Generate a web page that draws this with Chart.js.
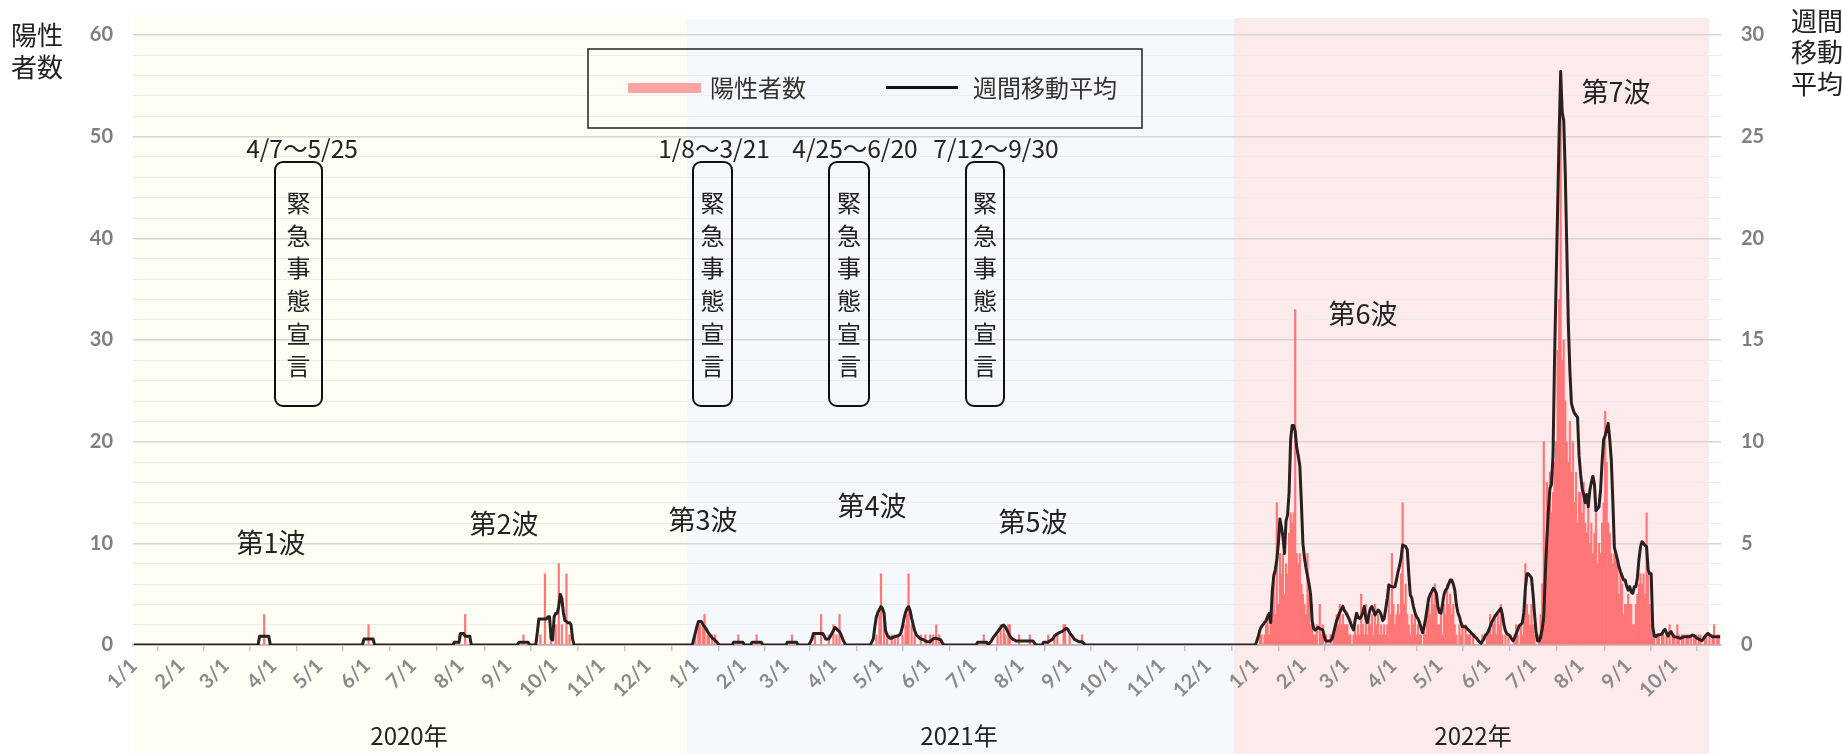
<!DOCTYPE html>
<html><head><meta charset="utf-8">
<script src="https://cdn.jsdelivr.net/npm/chart.js@4.4.1/dist/chart.umd.min.js"></script>
<style>html,body{margin:0;padding:0;background:#fff;}#wrap{width:1842px;height:754px;position:relative;overflow:hidden;}canvas{display:block;}</style>
</head><body><div id="wrap"><canvas id="c" width="1842" height="754"></canvas></div>
<script>
// ---- categories ----
const startDate = "2020-01-01";
const endDate = "2022-10-31";
const leftTicks = [0, 10, 20, 30, 40, 50, 60];
const rightTicks = [0, 5, 10, 15, 20, 25, 30];
const yearLabels = ["2020年", "2021年", "2022年"];

// ---- daily positive counts: [first date, consecutive daily values]; days not listed are 0 ----
const cases2020 = [
  ["2020-03-26", [3]],
  ["2020-06-02", [2]],
  ["2020-07-31", [1,0,0,0,3]],
  ["2020-09-11", [1]],
  ["2020-09-22", [1,0,0,7,0,0,0,1,0,0,2,0,8,0,2,0,0,7,0,1]]
];
const cases2021 = [
  ["2021-01-01", [1,0,2,2,0,2,3,0,1,1,0,1,0,1]],
  ["2021-01-29", [1]],
  ["2021-02-10", [1]],
  ["2021-03-05", [1]],
  ["2021-03-20", [1,0,0,0,3,0,0,0,0,1,0,0,2,0,1,0,3]],
  ["2021-04-29", [1,0,3,7,0,3,0,1,0,0,1,0,1,0,1,0,0,1,0,2,3,7,0,2,0,1,0,0,0,1,0,0,1,0,0,1,0,1,0,2,0,1]],
  ["2021-07-08", [1]],
  ["2021-07-17", [1,0,2,0,2,1,0,2,2,0,0,0,0,0,1]],
  ["2021-08-07", [1]],
  ["2021-08-19", [1,0,0,0,1,0,1,0,0,0,2,2,0,0,1]],
  ["2021-09-10", [1]]
];
const cases2022 = [
  ["2022-01-01", [0,0,0,1,1,0,1,2,3,1,2,4,7,3,14,4,9,7,9,5,8,7,11,13,12,13,33,9,8,9,6]],
  ["2022-02-01", [5,4,3,9,5,2,4,1,1,2,0,4,1,2,0,1,0,0,1,0,1,2,3,2,4,2,3,2]],
  ["2022-03-01", [2,2,1,1,0,1,2,1,2,1,5,2,1,4,1,3,2,3,1,4,2,3,1,2,1,2,1,2,6,3,9]],
  ["2022-04-01", [4,2,3,4,3,7,14,4,6,3,2,1,3,2,3,1,2,1,1,0,2,1,3,4,3,5,4,6,5,2]],
  ["2022-05-01", [2,3,1,4,3,6,4,5,3,4,2,1,0,2,1,2,0,2,1,1,1,0,1,0,0,0,0,0,1,0,0]],
  ["2022-06-01", [1,1,3,1,2,3,1,3,2,4,1,0,1,0,1,0,0,0,1,2,1,0,2,1,3,8,4,3,2,4]],
  ["2022-07-01", [2,1,0,0,1,3,6,20,9,16,12,17,13,15,18,20,29,34,52,28,30,24,20,18,22,17,20,14,17,12,15]],
  ["2022-08-01", [15,13,16,12,11,14,10,12,9,11,13,8,10,9,12,14,23,18,12,11,9,8,9,9,8,5,7,6,3,4,4]],
  ["2022-09-01", [5,4,4,2,2,4,5,6,7,6,7,5,13,7,4,2,1,1,0,1,1,0,1,1,0,1,0,2,0,1]],
  ["2022-10-01", [1,0,2,1,0,1,1,0,1,1,0,1,0,1,1,0,1,1,0,0,1,1,0,1,0,1,2,0,1,1,0]]
];

// ---- weekly moving average (right axis); days not listed are 0 ----
const avg2020 = [
  ["2020-03-23", [0.43,0.43,0.43,0.43,0.43,0.43,0.43]],
  ["2020-05-30", [0.29,0.29,0.29,0.29,0.29,0.29,0.29]],
  ["2020-07-28", [0.14,0.14,0.14,0.14,0.57,0.57,0.57,0.43,0.43,0.43,0.43]],
  ["2020-09-08", [0.14,0.14,0.14,0.14,0.14,0.14,0.14]],
  ["2020-09-20", [0.6,1.28,1.28,1.28,1.28,1.28,1.28,1.39,1.39,0.3,0.25,1.4,1.56,1.56,1.9,2.49,2.3,1.6,1.2,1.15,1.1,1.1,1.0,0.3]],
  ["2020-12-31", [0.3]]
];
const avg2021 = [
  ["2021-01-01", [0.6,0.9,1.15,1.15,1.15,1.0,0.9,0.8,0.66,0.55,0.45,0.35,0.3,0.2,0.16,0.05]],
  ["2021-01-26", [0.14,0.14,0.14,0.14,0.14,0.14,0.14]],
  ["2021-02-07", [0.14,0.14,0.14,0.14,0.14,0.14,0.14]],
  ["2021-03-02", [0.14,0.14,0.14,0.14,0.14,0.14,0.14]],
  ["2021-03-17", [0.14,0.3,0.57,0.57,0.57,0.57,0.57,0.57,0.57,0.45,0.29,0.29,0.29,0.43,0.57,0.71,0.86,0.8,0.71,0.66,0.5,0.3,0.14]],
  ["2021-04-26", [0.14,0.3,0.9,1.39,1.6,1.75,1.89,1.8,1.56,0.7,0.5,0.4,0.33,0.33,0.4,0.41,0.43,0.45,0.49,0.6,0.9,1.3,1.6,1.8,1.89,1.7,1.31,1.0,0.7,0.5,0.43,0.35,0.3,0.28,0.25,0.2,0.16,0.16,0.16,0.25,0.3,0.33,0.33,0.3,0.28,0.25,0.1]],
  ["2021-07-04", [0.14,0.14,0.14,0.14,0.14,0.14,0.14,0,0.1,0.2,0.35,0.45,0.55,0.65,0.75,0.85,0.95,0.98,0.9,0.75,0.6,0.45,0.35,0.28,0.25,0.2,0.2,0.2,0.2,0.2,0.2,0.2,0.2,0.2,0.2,0.2,0.2,0.1]],
  ["2021-08-16", [0.14,0.14,0.14,0.14,0.2,0.25,0.3,0.44,0.5,0.55,0.6,0.64,0.66,0.72,0.78,0.82,0.75,0.6,0.5,0.4,0.28,0.25,0.2,0.16,0.16,0.16,0.1]]
];
const avg2022 = [
  ["2022-01-01", [0,0.2,0.45,0.74,0.9,1.0,1.1,1.2,1.4,1.56,1.1,2.6,3.4,3.7,4.2,5.0,6.2,5.8,5.3,4.5,6.1,6.4,7.5,10.1,10.8,10.8,10.5,9.7,9.3,8.8,7.0]],
  ["2022-02-01", [5.0,4.3,3.8,3.4,3.0,2.5,1.2,0.8,0.74,0.8,0.87,0.8,0.78,0.74,0.4,0.2,0.2,0.2,0.2,0.3,0.6,0.9,1.2,1.4,1.6,1.75,1.9,1.7]],
  ["2022-03-01", [1.6,1.45,1.3,1.1,0.9,0.74,1.2,1.56,1.35,1.3,1.39,1.6,1.89,1.3,1.1,1.5,1.8,1.89,1.7,1.48,1.6,1.72,1.64,1.5,1.2,1.3,1.8,2.3,2.95,2.9,2.87]],
  ["2022-04-01", [2.85,2.87,3.2,3.6,3.9,4.3,4.92,4.88,4.84,4.7,3.5,2.46,2.3,1.9,1.6,1.4,1.3,1.1,0.85,0.6,0.9,1.3,1.8,2.3,2.5,2.62,2.79,2.7,2.54,1.9]],
  ["2022-05-01", [1.6,1.56,2.0,2.5,2.7,2.79,3.0,3.2,3.2,3.0,2.7,2.0,1.6,1.39,1.1,0.9,0.9,0.9,0.8,0.74,0.65,0.57,0.5,0.41,0.35,0.25,0.15,0.08,0.2,0.3,0.49]],
  ["2022-06-01", [0.55,0.7,0.9,1.1,1.25,1.4,1.5,1.6,1.7,1.8,1.5,1.0,0.7,0.55,0.5,0.45,0.3,0.2,0.35,0.55,0.75,0.95,1.0,1.1,1.6,2.8,3.5,3.5,3.4,3.3]],
  ["2022-07-01", [2.5,1.5,0.6,0.2,0.2,0.4,0.8,1.4,3.5,5.2,6.6,7.7,7.9,9.3,14.0,17.7,21.4,25.1,28.2,26.2,25.8,23.2,19.5,15.8,13.5,11.9,11.6,11.4,11.3,11.2,9.3]],
  ["2022-08-01", [8.4,7.7,7.4,7.0,7.4,6.8,7.6,8.0,8.3,7.9,6.6,6.7,6.8,7.6,9.0,10.1,10.3,10.6,10.9,10.1,9.1,7.1,4.8,4.5,4.2,3.85,3.6,3.4,3.2,3.2,2.9]],
  ["2022-09-01", [2.7,2.87,2.6,2.54,2.87,2.87,3.3,4.2,4.8,5.08,5.0,4.9,4.84,3.7,3.5,3.5,0.9,0.45,0.41,0.49,0.5,0.52,0.54,0.7,0.77,0.6,0.44,0.6,0.66,0.5]],
  ["2022-10-01", [0.41,0.39,0.38,0.35,0.33,0.36,0.4,0.41,0.41,0.41,0.41,0.45,0.49,0.45,0.4,0.33,0.3,0.25,0.21,0.3,0.41,0.5,0.57,0.5,0.45,0.41,0.41,0.41,0.41,0.41,0.41]]
];

// ---- build category list and series ----
const DAY = 86400000;
const t0 = Date.parse(startDate + "T00:00:00Z");
const dayIndex = s => Math.round((Date.parse(s + "T00:00:00Z") - t0) / DAY);
const nDays = dayIndex(endDate) + 1;
const labels = [];
for (let i = 0; i < nDays; i++) labels.push(new Date(t0 + i * DAY).toISOString().slice(0, 10));
const cases = new Array(nDays).fill(0);
const avg = new Array(nDays).fill(0);
function place(target, segs) {
  for (const [start, vals] of segs) { let i = dayIndex(start); for (const v of vals) target[i++] = v; }
}
[cases2020, cases2021, cases2022].forEach(s => place(cases, s));
[avg2020, avg2021, avg2022].forEach(s => place(avg, s));

const JP = '"Noto Sans CJK JP", "Noto Sans", sans-serif';
const NUM = 'Lato, "Open Sans", sans-serif';

const decor = {
  id: 'decor',
  beforeDraw(chart) {
    const {ctx, chartArea: ca, scales: {x}} = chart;
    const H = chart.height;
    const px = v => x.getPixelForValue(v);
    const b1 = px(dayIndex("2021-01-01") - 5.4);
    const b2 = px(dayIndex("2022-01-01") - 13.9);
    const b3 = px(dayIndex("2022-10-31") - 7.3);
    ctx.save();
    ctx.fillStyle = '#FFFEF4'; ctx.fillRect(ca.left, 14, b1 - ca.left, H - 14);
    ctx.fillStyle = '#F5F8FC'; ctx.fillRect(b1, 19, b2 - b1, H - 19);
    ctx.fillStyle = '#FDEBEB'; ctx.fillRect(b2, 18, b3 - b2, H - 18);
    ctx.restore();
  },
  afterDraw(chart) {
    const {ctx} = chart;
    ctx.save();
    ctx.fillStyle = '#222';
    ctx.textBaseline = 'middle';
    // axis titles
    ctx.font = '26px ' + JP; ctx.textAlign = 'left';
    ctx.fillText('陽性', 11, 35); ctx.fillText('者数', 11, 67);
    ctx.fillText('週間', 1791, 21); ctx.fillText('移動', 1791, 52); ctx.fillText('平均', 1791, 84);
    // year labels
    ctx.font = '24px ' + JP; ctx.textAlign = 'center';
    ctx.fillText(yearLabels[0], 409, 736);
    ctx.fillText(yearLabels[1], 959, 736);
    ctx.fillText(yearLabels[2], 1473, 736);
    // wave labels
    ctx.font = '27px ' + JP;
    [['第1波',271,543],['第2波',504,524],['第3波',703,520],['第4波',872,506],['第5波',1033,522],['第6波',1363,314],['第7波',1616,92]]
      .forEach(([t,xx,yy]) => ctx.fillText(t, xx, yy));
    // emergency declarations
    ctx.font = '24.5px ' + JP;
    [['4/7〜5/25',302],['1/8〜3/21',714],['4/25〜6/20',855],['7/12〜9/30',996]].forEach(([t,xx]) => ctx.fillText(t, xx, 149));
    const boxes = [[275,322],[693,732],[829,869],[966,1004]];
    const word = '緊急事態宣言';
    boxes.forEach(([l, r]) => {
      ctx.lineWidth = 2; ctx.strokeStyle = '#111';
      ctx.beginPath(); ctx.roundRect(l, 162, r - l, 244, 8); ctx.stroke();
      ctx.font = '24px ' + JP;
      for (let k = 0; k < word.length; k++) ctx.fillText(word[k], (l + r) / 2, 203 + k * 32.6);
    });
    // legend
    ctx.lineWidth = 1.5; ctx.strokeStyle = '#222';
    ctx.strokeRect(588, 49, 554, 79);
    ctx.fillStyle = '#FFA3A3'; ctx.fillRect(628, 83, 73, 10);
    ctx.strokeStyle = '#111'; ctx.lineWidth = 3;
    ctx.beginPath(); ctx.moveTo(886, 87.5); ctx.lineTo(958, 87.5); ctx.stroke();
    ctx.fillStyle = '#333'; ctx.textAlign = 'left'; ctx.font = '24px ' + JP;
    ctx.fillText('陽性者数', 710, 88);
    ctx.fillText('週間移動平均', 973, 88);
    ctx.restore();
  }
};

new Chart(document.getElementById('c'), {
  data: {
    labels,
    datasets: [
      { type: 'line', label: '週間移動平均', data: avg, yAxisID: 'y2', borderColor: '#2b1f1f', borderWidth: 3,
        pointRadius: 0, tension: 0, borderJoinStyle: 'round', order: 0 },
      { type: 'bar', label: '陽性者数', data: cases, yAxisID: 'y', backgroundColor: '#FF7676',
        barPercentage: 1, categoryPercentage: 1, order: 1 }
    ]
  },
  options: {
    responsive: false, animation: false, devicePixelRatio: 1, events: [],
    layout: { padding: { top: 35, left: 0, right: 0, bottom: 0 } },
    plugins: { legend: { display: false }, tooltip: { enabled: false } },
    scales: {
      x: {
        type: 'category', offset: true,
        afterBuildTicks: s => { s.ticks = s.ticks.filter(t => labels[t.value].endsWith('-01')); },
        afterFit: s => { s.height = 109; },
        ticks: { autoSkip: false, minRotation: 45, maxRotation: 45, padding: 3, color: '#8a8a8a',
          font: { family: NUM, size: 20, weight: 'bold' },
          callback: function (v) { const s = labels[v]; return (+s.slice(5, 7)) + '/1'; } },
        grid: { drawOnChartArea: false, drawTicks: true, tickLength: 6, color: '#c4c4c4', lineWidth: 1.5 },
        border: { display: true, color: '#c4c4c4', width: 2 }
      },
      y: {
        position: 'left', min: 0, max: 60,
        afterFit: s => { s.width = 133; },
        ticks: { stepSize: 2, autoSkip: false, padding: 20, color: '#7f7f7f',
          font: { family: NUM, size: 20, weight: 'bold' },
          callback: v => leftTicks.includes(v) ? String(v) : '' },
        grid: { drawTicks: false,
          color: c => (c.tick && leftTicks.includes(c.tick.value)) ? '#d6d6d6' : '#ececec',
          lineWidth: c => (c.tick && leftTicks.includes(c.tick.value)) ? 1.5 : 1 },
        border: { display: false }
      },
      y2: {
        position: 'right', min: 0, max: 30,
        afterFit: s => { s.width = 121; },
        ticks: { stepSize: 5, autoSkip: false, padding: 20, color: '#7f7f7f',
          font: { family: NUM, size: 20, weight: 'bold' },
          callback: v => rightTicks.includes(v) ? String(v) : '' },
        grid: { drawOnChartArea: false, drawTicks: false },
        border: { display: false }
      }
    }
  },
  plugins: [decor]
});
</script></body></html>
